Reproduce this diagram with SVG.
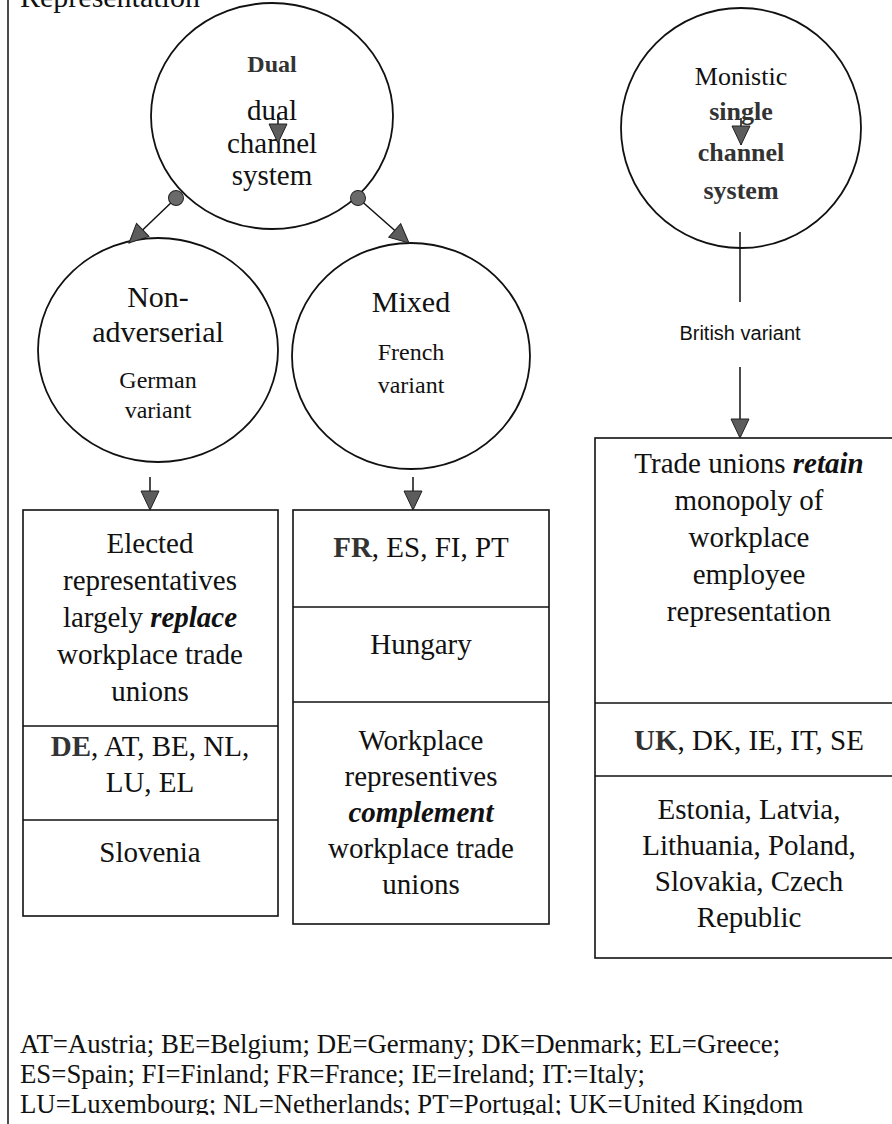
<svg xmlns="http://www.w3.org/2000/svg" width="892" height="1124" viewBox="0 0 892 1124">
<style>
.t{font-family:"Liberation Serif","Times New Roman",serif;fill:#111;text-anchor:middle}
.s{font-family:"Liberation Sans",Arial,sans-serif;fill:#111;text-anchor:middle}
.sh{fill:#fff;stroke:#111;stroke-width:1.8}
.bx{fill:#fff;stroke:#111;stroke-width:1.6}
.ln{stroke:#111;stroke-width:1.5;fill:none}
.b{font-weight:bold;fill:#333}
.bi{font-weight:bold;font-style:italic}
</style>
<defs>
<marker id="ah" markerWidth="22" markerHeight="20" refX="20" refY="10" orient="auto" markerUnits="userSpaceOnUse"><path d="M1,1 L20,10 L1,19 z" fill="#5c5c5c" stroke="#222" stroke-width="1"/></marker>
<marker id="dot" markerWidth="18" markerHeight="18" refX="9" refY="9" orient="auto" markerUnits="userSpaceOnUse"><circle cx="9" cy="9" r="7.5" fill="#6a6a6a" stroke="#222" stroke-width="1"/></marker>
<clipPath id="clipBottom"><rect x="0" y="0" width="892" height="1115"/></clipPath>
</defs>
<rect width="892" height="1124" fill="#fff"/>
<line x1="8" y1="0" x2="8" y2="1124" class="ln"/>
<text x="20" y="7" class="t" style="text-anchor:start" font-size="30">Representation</text>

<g id="node-dual">
<ellipse cx="272" cy="116" rx="121" ry="113" class="sh"/>
<text x="272" y="72" class="t b" font-size="24">Dual</text>
<text x="272" y="120" class="t" font-size="29">dual</text>
<text x="272" y="153" class="t" font-size="29">channel</text>
<text x="272" y="185" class="t" font-size="29">system</text>
</g>

<g id="node-monistic">
<ellipse cx="741" cy="128" rx="120" ry="120" class="sh"/>
<text x="741" y="85" class="t" font-size="26">Monistic</text>
<text x="741" y="120" class="t b" font-size="26">single</text>
<text x="741" y="161" class="t b" font-size="26">channel</text>
<text x="741" y="199" class="t b" font-size="26">system</text>
</g>

<g id="node-nonadv">
<ellipse cx="158" cy="350" rx="120" ry="112" class="sh"/>
<text x="158" y="307" class="t" font-size="30">Non-</text>
<text x="158" y="342" class="t" font-size="30">adverserial</text>
<text x="158" y="388" class="t" font-size="24">German</text>
<text x="158" y="418" class="t" font-size="24">variant</text>
</g>

<g id="node-mixed">
<ellipse cx="411" cy="356" rx="119" ry="113" class="sh"/>
<text x="411" y="312" class="t" font-size="30">Mixed</text>
<text x="411" y="360" class="t" font-size="24">French</text>
<text x="411" y="393" class="t" font-size="24">variant</text>
</g>

<g id="box-german">
<rect x="23" y="510" width="255" height="406" class="bx"/>
<line x1="23" y1="726" x2="278" y2="726" class="ln"/>
<line x1="23" y1="820" x2="278" y2="820" class="ln"/>
<text x="150" y="553" class="t" font-size="29">Elected</text>
<text x="150" y="590" class="t" font-size="29">representatives</text>
<text x="150" y="627" class="t" font-size="29">largely <tspan class="bi">replace</tspan></text>
<text x="150" y="664" class="t" font-size="29">workplace trade</text>
<text x="150" y="701" class="t" font-size="29">unions</text>
<text x="150" y="756" class="t" font-size="29"><tspan class="b">DE</tspan>, AT, BE, NL,</text>
<text x="150" y="792" class="t" font-size="29">LU, EL</text>
<text x="150" y="862" class="t" font-size="29">Slovenia</text>
</g>

<g id="box-french">
<rect x="293" y="510" width="256" height="414" class="bx"/>
<line x1="293" y1="607" x2="549" y2="607" class="ln"/>
<line x1="293" y1="702" x2="549" y2="702" class="ln"/>
<text x="421" y="557" class="t" font-size="29"><tspan class="b">FR</tspan>, ES, FI, PT</text>
<text x="421" y="654" class="t" font-size="29">Hungary</text>
<text x="421" y="750" class="t" font-size="29">Workplace</text>
<text x="421" y="786" class="t" font-size="29">representives</text>
<text x="421" y="822" class="t bi" font-size="29">complement</text>
<text x="421" y="858" class="t" font-size="29">workplace trade</text>
<text x="421" y="894" class="t" font-size="29">unions</text>
</g>

<g id="box-british">
<rect x="595" y="438" width="310" height="520" class="bx"/>
<line x1="595" y1="703" x2="905" y2="703" class="ln"/>
<line x1="595" y1="776" x2="905" y2="776" class="ln"/>
<text x="749" y="473" class="t" font-size="29">Trade unions <tspan class="bi">retain</tspan></text>
<text x="749" y="510" class="t" font-size="29">monopoly of</text>
<text x="749" y="547" class="t" font-size="29">workplace</text>
<text x="749" y="584" class="t" font-size="29">employee</text>
<text x="749" y="621" class="t" font-size="29">representation</text>
<text x="749" y="750" class="t" font-size="29"><tspan class="b">UK</tspan>, DK, IE, IT, SE</text>
<text x="749" y="819" class="t" font-size="29">Estonia, Latvia,</text>
<text x="749" y="855" class="t" font-size="29">Lithuania, Poland,</text>
<text x="749" y="891" class="t" font-size="29">Slovakia, Czech</text>
<text x="749" y="927" class="t" font-size="29">Republic</text>
</g>

<g id="connectors">
<line x1="176" y1="198" x2="129" y2="243" class="ln" marker-start="url(#dot)" marker-end="url(#ah)"/>
<line x1="358" y1="198" x2="409" y2="243" class="ln" marker-start="url(#dot)" marker-end="url(#ah)"/>
<line x1="278" y1="115" x2="278" y2="143" class="ln" marker-end="url(#ah)"/>
<line x1="741" y1="118" x2="741" y2="145" class="ln" marker-end="url(#ah)"/>
<line x1="740" y1="232" x2="740" y2="302" class="ln"/>
<line x1="740" y1="367" x2="740" y2="438" class="ln" marker-end="url(#ah)"/>
<line x1="150" y1="477" x2="150" y2="510" class="ln" marker-end="url(#ah)"/>
<line x1="413" y1="477" x2="413" y2="510" class="ln" marker-end="url(#ah)"/>
<text x="740" y="340" class="s" font-size="20">British variant</text>
</g>

<g id="legend" clip-path="url(#clipBottom)">
<text x="20" y="1053" class="t" style="text-anchor:start" font-size="26.8">AT=Austria; BE=Belgium; DE=Germany; DK=Denmark; EL=Greece;</text>
<text x="20" y="1083" class="t" style="text-anchor:start" font-size="26.8">ES=Spain; FI=Finland; FR=France; IE=Ireland; IT:=Italy;</text>
<text x="20" y="1113" class="t" style="text-anchor:start" font-size="26.8">LU=Luxembourg; NL=Netherlands; PT=Portugal; UK=United Kingdom</text>
</g>
</svg>
